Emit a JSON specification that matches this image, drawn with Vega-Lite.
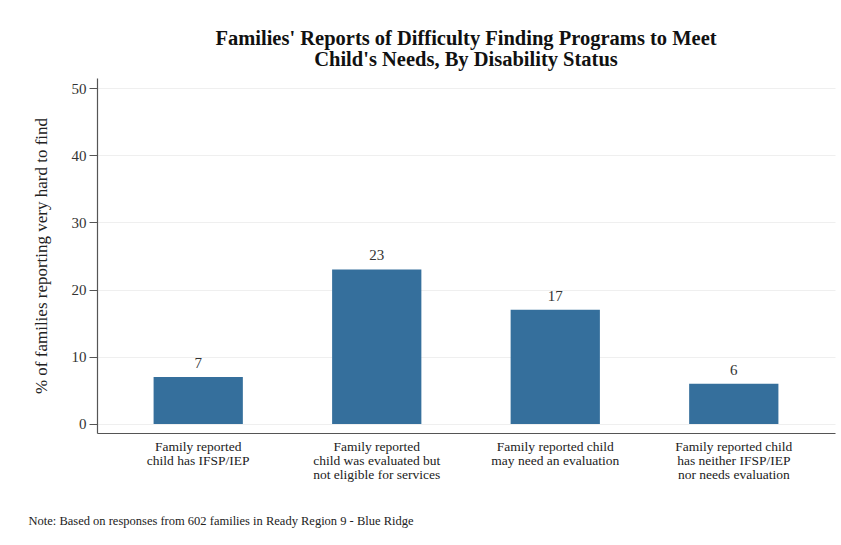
{
  "$schema": "https://vega.github.io/schema/vega-lite/v6.json",
  "autosize": {"type": "none"},
  "width": 738,
  "height": 355,
  "padding": {"left": 97, "top": 78, "right": 6, "bottom": 112},
  "background": "white",
  "config": {
    "font": "Liberation Serif",
    "view": {"stroke": null}
  },
  "title": {
    "text": ["Families' Reports of Difficulty Finding Programs to Meet", "Child's Needs, By Disability Status"],
    "font": "Liberation Serif",
    "fontSize": 20.5,
    "fontWeight": "bold",
    "color": "#111111",
    "lineHeight": 21,
    "anchor": "middle",
    "offset": 8
  },
  "data": {
    "values": [
      {"group": "Family reported|child has IFSP/IEP", "pct": 7, "order": 1},
      {"group": "Family reported|child was evaluated but|not eligible for services", "pct": 23, "order": 2},
      {"group": "Family reported child|may need an evaluation", "pct": 17, "order": 3},
      {"group": "Family reported child|has neither IFSP/IEP|nor needs evaluation", "pct": 6, "order": 4}
    ]
  },
  "encoding": {
    "x": {
      "field": "group",
      "type": "nominal",
      "sort": {"field": "order"},
      "scale": {"paddingInner": 0.5, "paddingOuter": 0.317},
      "axis": {
        "title": "Note: Based on responses from 602 families in Ready Region 9 - Blue Ridge",
        "titleFont": "Liberation Serif",
        "titleFontSize": 12.5,
        "titleFontWeight": "normal",
        "titleColor": "#222222",
        "titleAnchor": "start",
        "titleAlign": "left",
        "titleBaseline": "alphabetic",
        "titleX": -69,
        "titleY": 91,
        "labelExpr": "split(datum.value, '|')",
        "labelAngle": 0,
        "labelFont": "Liberation Serif",
        "labelFontSize": 13.5,
        "labelLineHeight": 14,
        "labelColor": "#222222",
        "labelPadding": 6,
        "labelLimit": 0,
        "ticks": false,
        "domainColor": "#555555",
        "domainWidth": 1.2
      }
    },
    "y": {
      "field": "pct",
      "type": "quantitative",
      "scale": {"domain": [-1.34, 51.5], "nice": false, "zero": false},
      "axis": {
        "title": "% of families reporting very hard to find",
        "titleFont": "Liberation Serif",
        "titleFontSize": 17,
        "titleFontWeight": "normal",
        "titleColor": "#222222",
        "titlePadding": 21,
        "values": [0, 10, 20, 30, 40, 50],
        "labelFont": "Liberation Serif",
        "labelFontSize": 15,
        "labelColor": "#333333",
        "labelPadding": 3,
        "tickSize": 8,
        "tickColor": "#555555",
        "domainColor": "#555555",
        "domainWidth": 1.2,
        "grid": true,
        "gridColor": "#efefef",
        "gridWidth": 1
      }
    }
  },
  "layer": [
    {
      "mark": {"type": "bar", "color": "#356f9c"},
      "encoding": {"y2": {"datum": 0}}
    },
    {
      "mark": {"type": "text", "dy": -6, "baseline": "bottom", "fontSize": 15, "color": "#333333", "font": "Liberation Serif"},
      "encoding": {"text": {"field": "pct", "type": "quantitative"}}
    }
  ]
}
